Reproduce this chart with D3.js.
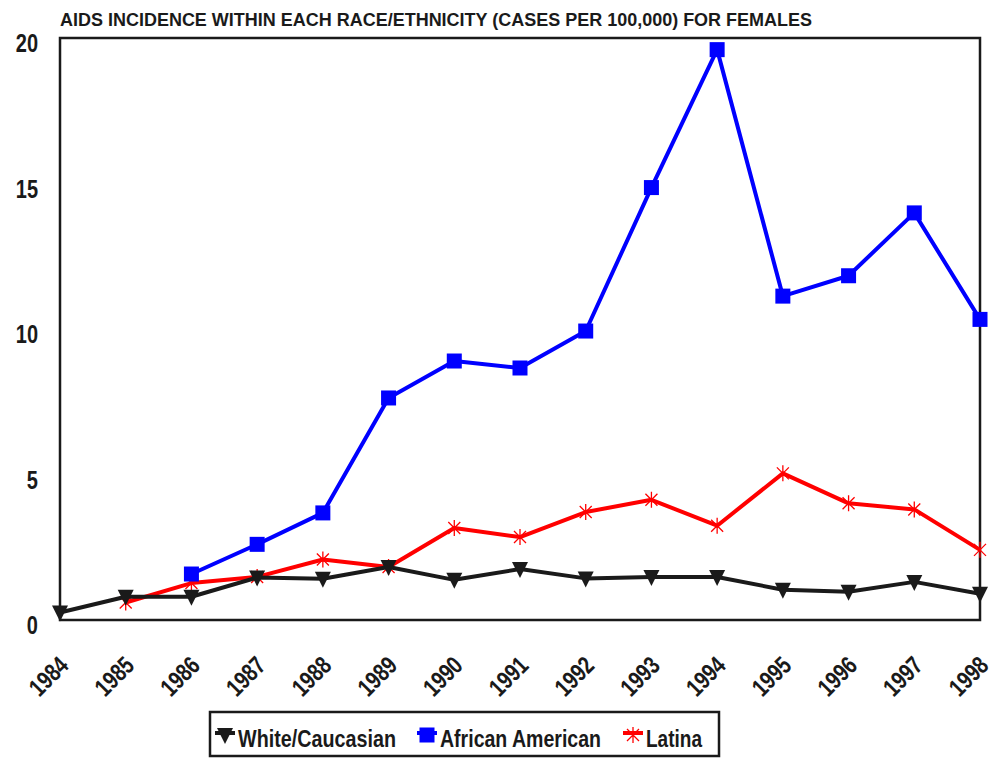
<!DOCTYPE html>
<html>
<head>
<meta charset="utf-8">
<script src="https://cdn.jsdelivr.net/npm/d3@7"></script>
<style>
  body { margin: 0; background: #fff; }
  svg { display: block; }
  text { font-family: "Liberation Sans", Arial, sans-serif; font-weight: bold; fill: #1a1a1a; }
</style>
</head>
<body>
<svg id="chart" width="1003" height="758"></svg>
<script>
const years = [1984, 1985, 1986, 1987, 1988, 1989, 1990, 1991, 1992, 1993, 1994, 1995, 1996, 1997, 1998]
const white  = [0.26, 0.8, 0.8, 1.46, 1.42, 1.82, 1.38, 1.75, 1.43, 1.48, 1.48, 1.04, 0.97, 1.31, 0.9]
const black  = [null, null, 1.58, 2.6, 3.68, 7.63, 8.9, 8.66, 9.93, 14.86, 19.6, 11.13, 11.83, 13.99, 10.33]
const latina = [null, 0.6, 1.27, 1.48, 2.08, 1.82, 3.16, 2.85, 3.71, 4.13, 3.24, 5.04, 4.01, 3.8, 2.41]
const yTicks = [0, 5, 10, 15, 20]

const series = [
    {name: 'White/Caucasian', values: white, color: '#1a1a1a', marker: 'tri'},
    {name: 'African American', values: black, color: '#0000ff', marker: 'square'},
    {name: 'Latina', values: latina, color: '#ff0000', marker: 'star'}
]

const svg = d3.select('#chart')
const m = {left: 60, right: 980, top: 38, bottom: 620}
const narrow = 0.8  // squeeze Arial into something like Arial Narrow

const x = d3.scaleLinear().domain([years[0], years[years.length - 1]]).range([m.left, m.right])
const y = d3.scaleLinear().domain([0, 20]).range([m.bottom, m.top])

// title
svg.append('text')
    .attr('x', 60).attr('y', 26)
    .attr('textLength', 752)
    .attr('lengthAdjust', 'spacingAndGlyphs')
    .style('font-size', '18px')
    .text('AIDS INCIDENCE WITHIN EACH RACE/ETHNICITY (CASES PER 100,000) FOR FEMALES')

// y tick labels
svg.append('g').selectAll('text')
    .data(yTicks).enter().append('text')
    .attr('transform', d => `translate(38,${y(d) + 14}) scale(${narrow},1)`)
    .attr('text-anchor', 'end')
    .style('font-size', '25px')
    .text(d => d)

// x tick labels, rotated
svg.append('g').selectAll('text')
    .data(years).enter().append('text')
    .attr('transform', d => `translate(${x(d) + 10},${667}) rotate(-45) scale(0.78,1)`)
    .attr('text-anchor', 'end')
    .style('font-size', '25px')
    .text(d => d)

// frame
svg.append('rect')
    .attr('x', m.left).attr('y', m.top)
    .attr('width', m.right - m.left).attr('height', m.bottom - m.top)
    .attr('fill', 'none').attr('stroke', '#1a1a1a').attr('stroke-width', 2.5)

function drawMarker(g, type, color){
    if(type === 'tri'){
        g.append('path').attr('d', 'M-8,-7 L8,-7 L0,9 Z').attr('fill', color)
    } else if(type === 'square'){
        g.append('rect').attr('x', -7.5).attr('y', -7.5).attr('width', 15).attr('height', 15).attr('fill', color)
    } else {
        g.append('path').attr('d', 'M-6,-6 L6,6 M-6,6 L6,-6 M0,-8 L0,8')
            .attr('stroke', color).attr('stroke-width', 1.3).attr('fill', 'none')
    }
}

const line = d3.line()
    .defined(d => d[1] !== null)
    .x(d => x(d[0]))
    .y(d => y(d[1]))

// latina first, white last so white sits on top
const drawOrder = [series[2], series[1], series[0]]
drawOrder.forEach(s => {
    const pts = years.map((yr, i) => [yr, s.values[i]])
    svg.append('path')
        .datum(pts)
        .attr('d', line)
        .attr('fill', 'none')
        .attr('stroke', s.color)
        .attr('stroke-width', 4)
        .attr('stroke-linejoin', 'round')
    pts.filter(p => p[1] !== null).forEach(p => {
        const g = svg.append('g').attr('transform', `translate(${x(p[0])},${y(p[1])})`)
        drawMarker(g, s.marker, s.color)
    })
})

// legend
const legend = svg.append('g')
legend.append('rect')
    .attr('x', 210).attr('y', 712).attr('width', 509).attr('height', 44)
    .attr('fill', '#fff').attr('stroke', '#1a1a1a').attr('stroke-width', 2.5)

const legendX = [225, 427, 633]
const legendW = [158, 161, 56]
series.forEach((s, i) => {
    const lx = legendX[i]
    legend.append('line')
        .attr('x1', lx - 10).attr('x2', lx + 10)
        .attr('y1', 733).attr('y2', 733)
        .attr('stroke', s.color).attr('stroke-width', 4)
    const g = legend.append('g').attr('transform', `translate(${lx},${735})`)
    drawMarker(g, s.marker, s.color)
    legend.append('text')
        .attr('x', lx + 13).attr('y', 747)
        .attr('textLength', legendW[i])
        .attr('lengthAdjust', 'spacingAndGlyphs')
        .style('font-size', '24px')
        .text(s.name)
})
</script>
</body>
</html>
